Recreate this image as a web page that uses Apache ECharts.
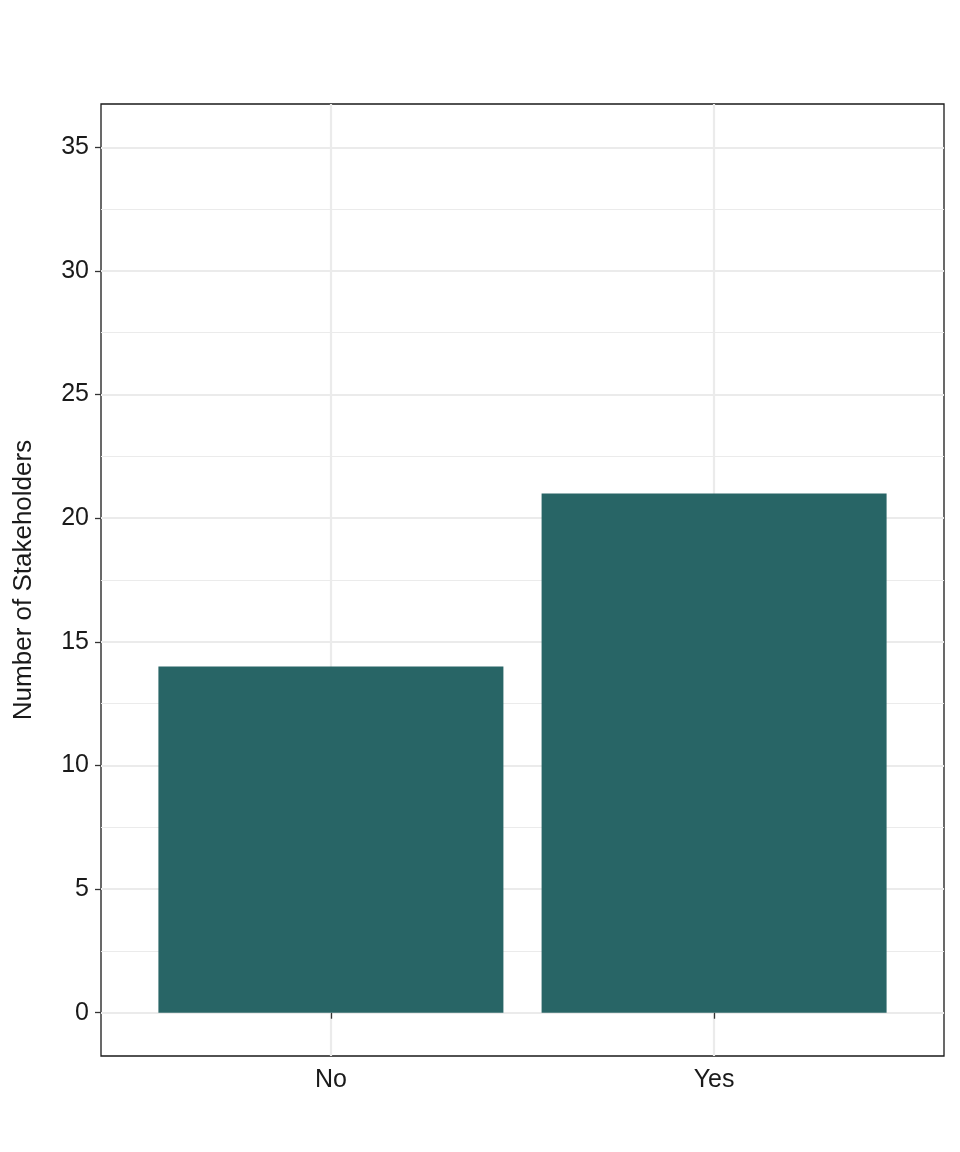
<!DOCTYPE html>
<html><head><meta charset="utf-8">
<script src="https://cdn.jsdelivr.net/npm/echarts@6/dist/echarts.min.js"></script>
<style>html,body{margin:0;padding:0;background:#fff}#c{width:960px;height:1152px}</style>
</head><body><div id="c"></div>
<script>
const categories = ['No', 'Yes'];
const counts = [14, 21];
const yMajorTicks = [0, 5, 10, 15, 20, 25, 30, 35];
const yMinorTicks = [2.5, 7.5, 12.5, 17.5, 22.5, 27.5, 32.5];
const yTitle = 'Number of Stakeholders';

const chart = echarts.init(document.getElementById('c'));
const font = 'Liberation Sans, Arial, sans-serif';
const xPos = categories.map((c, i) => i + 1);
chart.setOption({
  animation: false,
  backgroundColor: '#fff',
  grid: {left: 101, right: 16, top: 104, bottom: 96, show: true, borderColor: '#1a1a1a', borderWidth: 1.3, backgroundColor: 'transparent'},
  xAxis: [{
    type: 'value', min: 0.4, max: 2.6,
    axisLine: {show: false},
    axisTick: {show: true, length: 6, customValues: xPos, lineStyle: {color: '#333', width: 1.3}},
    axisLabel: {customValues: xPos, formatter: v => categories[Math.round(v) - 1] || '', color: '#1a1a1a', fontSize: 25, fontFamily: font, margin: 12},
    splitLine: {show: true, lineStyle: {color: '#ebebeb', width: 2.2}}
  }],
  yAxis: [{
    type: 'value', min: -1.75, max: 36.75,
    name: yTitle, nameLocation: 'middle', nameGap: 64,
    nameTextStyle: {color: '#1a1a1a', fontSize: 26, fontFamily: font},
    axisLine: {show: false},
    axisTick: {show: true, length: 6, customValues: yMajorTicks, lineStyle: {color: '#333', width: 1.3}},
    axisLabel: {customValues: yMajorTicks, color: '#1a1a1a', fontSize: 25, fontFamily: font, margin: 12},
    splitLine: {show: true, lineStyle: {color: '#ebebeb', width: 2.2}}
  }, {
    type: 'value', min: -1.75, max: 36.75, position: 'left',
    axisLine: {show: false},
    axisTick: {show: false, customValues: yMinorTicks},
    axisLabel: {show: false, customValues: yMinorTicks},
    splitLine: {show: true, lineStyle: {color: '#ebebeb', width: 1.1}}
  }],
  series: [{
    type: 'bar',
    data: xPos.map((x, i) => [x, counts[i]]),
    barWidth: 345,
    itemStyle: {color: '#286566'},
    z: 5
  }]
});
</script></body></html>
